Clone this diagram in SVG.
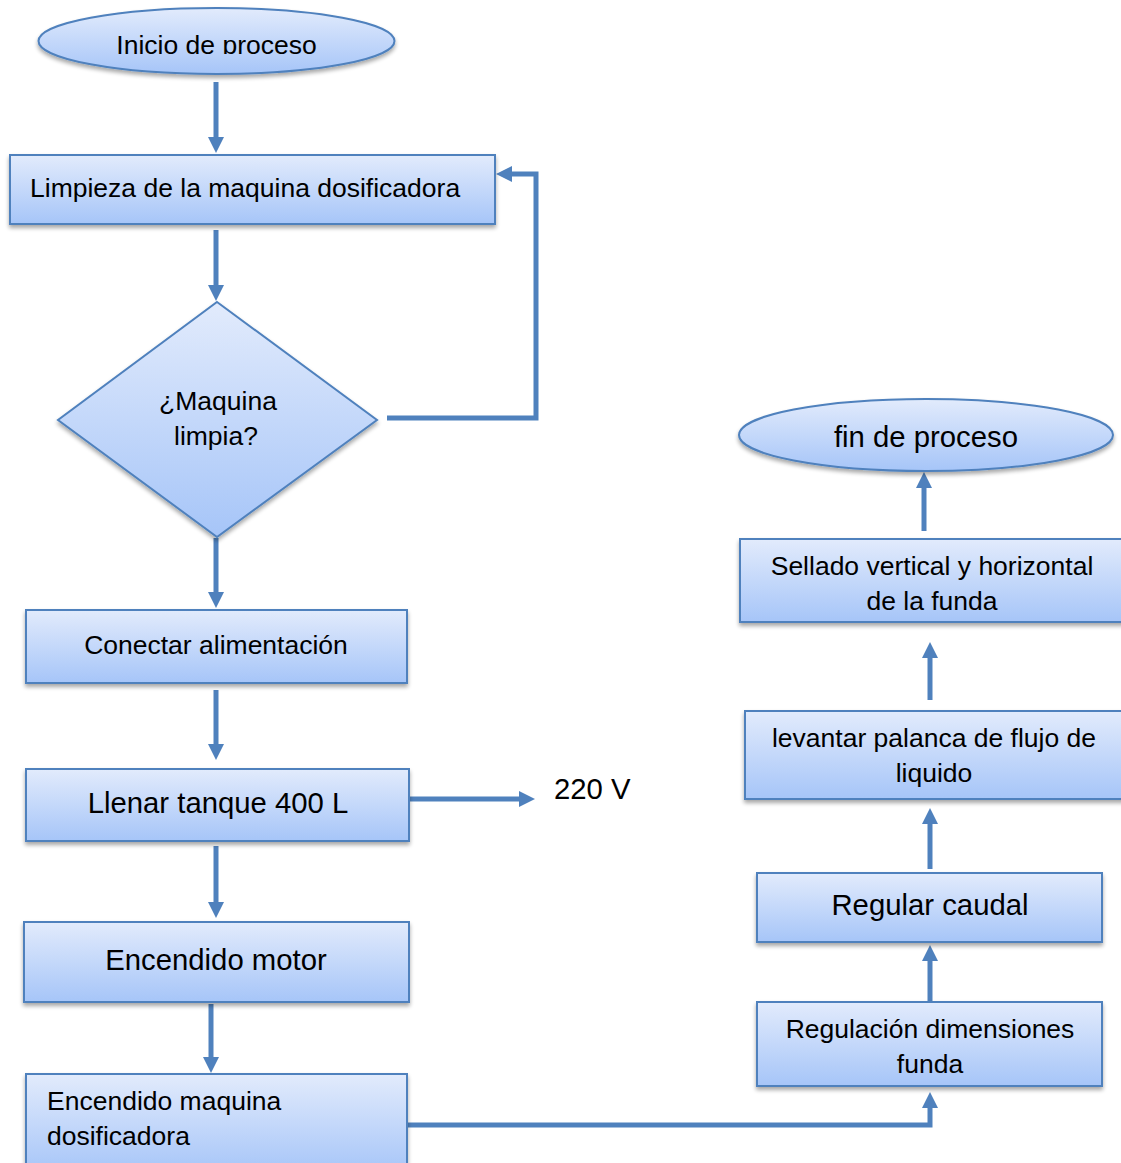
<svg xmlns="http://www.w3.org/2000/svg" width="1121" height="1163" viewBox="0 0 1121 1163">
<defs>
<linearGradient id="g" x1="0" y1="0" x2="0" y2="1">
<stop offset="0" stop-color="#e2ebfc"/>
<stop offset="1" stop-color="#a6c5f8"/>
</linearGradient>
<filter id="sh" x="-10%" y="-10%" width="120%" height="130%">
<feGaussianBlur in="SourceAlpha" stdDeviation="2"/>
<feOffset dx="0" dy="3" result="b"/>
<feComponentTransfer><feFuncA type="linear" slope="0.35"/></feComponentTransfer>
<feMerge><feMergeNode/><feMergeNode in="SourceGraphic"/></feMerge>
</filter>
<marker id="ah" markerUnits="userSpaceOnUse" markerWidth="16" markerHeight="16" viewBox="0 0 16 16" refX="5" refY="8" orient="auto">
<path d="M0,0 L16,8 L0,16 Z" fill="#4f81bd"/>
</marker>
<clipPath id="clipTop"><rect x="0" y="0" width="420" height="54"/></clipPath>
</defs>
<style>
.n{fill:url(#g);stroke:#4f81bd;stroke-width:2;filter:url(#sh)}
.t{font-family:"Liberation Sans",Arial,sans-serif;font-size:26.5px;fill:#000}
.L{font-size:29.3px}
.m{text-anchor:middle}
.c{fill:none;stroke:#4f81bd;stroke-width:5}
</style>
<rect width="1121" height="1163" fill="#fff"/>
<g id="connectors">
<path class="c" d="M216,82 V142" marker-end="url(#ah)"/>
<path class="c" d="M216,230 V290" marker-end="url(#ah)"/>
<path class="c" d="M387,418 H536 V174 H507" marker-end="url(#ah)"/>
<path class="c" d="M216,538 V597" marker-end="url(#ah)"/>
<path class="c" d="M216,690 V749" marker-end="url(#ah)"/>
<path class="c" d="M410,799 H524" marker-end="url(#ah)"/>
<path class="c" d="M216,846 V907" marker-end="url(#ah)"/>
<path class="c" d="M211,1004 V1062" marker-end="url(#ah)"/>
<path class="c" d="M408,1125 H930 V1103" marker-end="url(#ah)"/>
<path class="c" d="M930,1002 V956" marker-end="url(#ah)"/>
<path class="c" d="M930,869 V819" marker-end="url(#ah)"/>
<path class="c" d="M930,700 V653" marker-end="url(#ah)"/>
<path class="c" d="M924,531 V483" marker-end="url(#ah)"/>
</g>
<g id="inicio">
<ellipse class="n" cx="216.5" cy="41" rx="178" ry="33"/>
<text class="t m" x="216.5" y="54" clip-path="url(#clipTop)">Inicio de proceso</text>
</g>
<g id="limpieza">
<rect class="n" x="10" y="155" width="485" height="69"/>
<text class="t" x="30" y="197">Limpieza de la maquina dosificadora</text>
</g>
<g id="decision">
<polygon class="n" points="217,302 377,420 217,537 58,420"/>
<text class="t m" x="218" y="410">¿Maquina</text>
<text class="t m" x="216" y="445">limpia?</text>
</g>
<g id="conectar">
<rect class="n" x="26" y="610" width="381" height="73"/>
<text class="t m" x="216" y="654">Conectar alimentación</text>
</g>
<g id="llenar">
<rect class="n" x="26" y="769" width="383" height="72"/>
<text class="t L m" x="218" y="813">Llenar tanque 400 L</text>
</g>
<g id="voltaje">
<text class="t L" x="554" y="799">220 V</text>
</g>
<g id="motor">
<rect class="n" x="24" y="922" width="385" height="80"/>
<text class="t L m" x="216" y="970">Encendido motor</text>
</g>
<g id="dosificadora">
<rect class="n" x="26" y="1074" width="381" height="100"/>
<text class="t" x="47" y="1110">Encendido maquina</text>
<text class="t" x="47" y="1145">dosificadora</text>
</g>
<g id="dimensiones">
<rect class="n" x="757" y="1002" width="345" height="84"/>
<text class="t m" x="930" y="1038">Regulación dimensiones</text>
<text class="t m" x="930" y="1073">funda</text>
</g>
<g id="caudal">
<rect class="n" x="757" y="873" width="345" height="69"/>
<text class="t L m" x="930" y="915">Regular caudal</text>
</g>
<g id="palanca">
<rect class="n" x="745" y="711" width="385" height="88"/>
<text class="t m" x="934" y="747">levantar palanca de flujo de</text>
<text class="t m" x="934" y="782">liquido</text>
</g>
<g id="sellado">
<rect class="n" x="740" y="539" width="390" height="83"/>
<text class="t m" x="932" y="575">Sellado vertical y horizontal</text>
<text class="t m" x="932" y="610">de la funda</text>
</g>
<g id="fin">
<ellipse class="n" cx="926" cy="435" rx="187" ry="36"/>
<text class="t L m" x="926" y="447">fin de proceso</text>
</g>
</svg>
